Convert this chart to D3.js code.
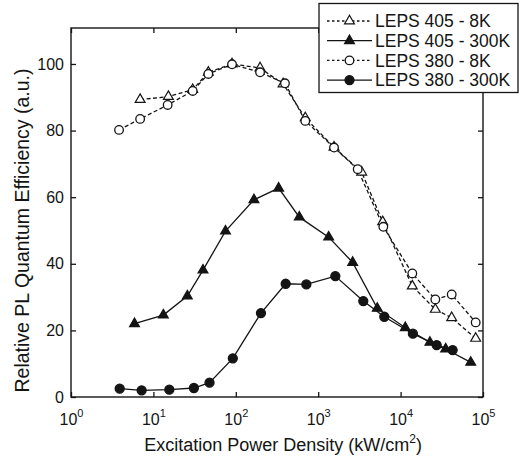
<!DOCTYPE html>
<html><head><meta charset="utf-8">
<script src="https://cdn.jsdelivr.net/npm/d3@7"></script>
<style>
html,body{margin:0;padding:0;background:#fff;}
svg{display:block;font-family:"Liberation Sans",Arial,sans-serif;}
</style></head>
<body>
<svg id="chart" width="520" height="458"></svg>
<script>
// ---- data ----
const seriesNames = ["LEPS 405 - 8K", "LEPS 405 - 300K", "LEPS 380 - 8K", "LEPS 380 - 300K"];

const x405_8K = [6.9, 15.2, 30, 46.4, 90, 197, 375, 697, 1556, 3370, 6060, 13870, 26400, 41700, 81500];
const y405_8K = [89.3, 90.2, 92.3, 97.5, 100, 98.8, 94.0, 83.8, 75, 67.5, 52.6, 33.3, 26.3, 23.8, 17.6];

const x405_300K = [5.9, 13.2, 25.8, 40, 75, 166, 331, 590, 1340, 2620, 5210, 11400, 22700, 35200, 71000];
const y405_300K = [22.0, 24.6, 30.3, 38.1, 49.8, 59.2, 62.7, 54, 48, 40.4, 26.6, 20.8, 16.4, 14.4, 10.4];

const x380_8K = [3.83, 6.9, 14.9, 30, 46.4, 90, 197, 395, 697, 1556, 3015, 6170, 13870, 26400, 41700, 81500];
const y380_8K = [80.2, 83.5, 87.7, 91.9, 97, 99.9, 97.5, 94.2, 82.9, 74.9, 68.4, 51.1, 37.1, 29.3, 30.8, 22.4];

const x380_300K = [3.9, 7.2, 15.6, 31, 48, 92, 202, 403, 718, 1614, 3525, 6340, 14100, 27400, 42800];
const y380_300K = [2.5, 2.0, 2.2, 2.7, 4.3, 11.6, 25.2, 34, 33.8, 36.3, 28.8, 24.1, 19, 15.6, 14.1];

const xTicks = [1, 10, 100, 1000, 10000, 100000];
const xTickExp = ["0", "1", "2", "3", "4", "5"];
const yTicks = [0, 20, 40, 60, 80, 100];

const xTitle = "Excitation Power Density (kW/cm";
const xTitleSup = "2";
const xTitleEnd = ")";
const yTitle = "Relative PL Quantum Efficiency (a.u.)";

// ---- layout ----
const L = 71, R = 483, T = 28, B = 397;
const ink = "#141414";
const svg = d3.select("#chart");

const x = d3.scaleLog().domain([1, 1e5]).range([L, R]);
const y = d3.scaleLinear().domain([0, 110.8]).range([B, T]);

const series = [
  {name: seriesNames[0], xs: x405_8K, ys: y405_8K, shape: "tri", filled: false, dashed: true},
  {name: seriesNames[1], xs: x405_300K, ys: y405_300K, shape: "tri", filled: true, dashed: false},
  {name: seriesNames[2], xs: x380_8K, ys: y380_8K, shape: "circ", filled: false, dashed: true},
  {name: seriesNames[3], xs: x380_300K, ys: y380_300K, shape: "circ", filled: true, dashed: false}
];

// frame
svg.append("rect").attr("x", L).attr("y", T).attr("width", R - L).attr("height", B - T)
  .attr("fill", "none").attr("stroke", ink).attr("stroke-width", 1.4);

// axes
const axL = svg.append("g").attr("transform", `translate(${L},0)`)
  .call(d3.axisLeft(y).tickValues(yTicks).tickSize(-5).tickPadding(7).tickFormat(d3.format("d")));
const axR = svg.append("g").attr("transform", `translate(${R},0)`)
  .call(d3.axisRight(y).tickValues(yTicks).tickSize(-5).tickFormat(""));
const axB = svg.append("g").attr("transform", `translate(0,${B})`)
  .call(d3.axisBottom(x).tickValues(xTicks).tickSize(-5).tickPadding(12).tickFormat(""));
const axT = svg.append("g").attr("transform", `translate(0,${T})`)
  .call(d3.axisTop(x).tickValues(xTicks).tickSize(-5).tickFormat(""));

[axL, axR, axB, axT].forEach(g => {
  g.select(".domain").remove();
  g.selectAll(".tick line").attr("stroke", ink).attr("stroke-width", 1.3);
});
axL.selectAll(".tick text").attr("font-size", 16).attr("fill", ink)
  .attr("font-family", "Liberation Sans, Arial, sans-serif");

axB.selectAll(".tick").each(function(d, i) {
  const t = d3.select(this).select("text")
    .attr("font-size", 16).attr("fill", ink).attr("dy", null).attr("y", 28)
    .attr("font-family", "Liberation Sans, Arial, sans-serif").attr("text-anchor", "middle");
  t.text("");
  t.append("tspan").text("10");
  t.append("tspan").attr("font-size", 11).attr("dy", -8).text(xTickExp[i]);
});

// titles
const xt = svg.append("text").attr("x", 283).attr("y", 451).attr("text-anchor", "middle")
  .attr("font-size", 18).attr("fill", ink);
xt.append("tspan").text(xTitle);
xt.append("tspan").attr("font-size", 12).attr("dy", -8).text(xTitleSup);
xt.append("tspan").attr("dy", 8).text(xTitleEnd);

svg.append("text").attr("transform", `translate(29,${(T + B) / 2 + 18}) rotate(-90)`)
  .attr("text-anchor", "middle").attr("font-size", 19.5).attr("fill", ink).text(yTitle);

// lines + markers
const line = d3.line().x(d => x(d[0])).y(d => y(d[1]));
const triSym = d3.symbol().type(d3.symbolTriangle).size(42);

function drawMarker(g, s, px, py) {
  if (s.shape === "tri") {
    g.append("path").attr("d", triSym()).attr("transform", `translate(${px},${py})`)
      .attr("fill", s.filled ? ink : "#fff").attr("stroke", ink).attr("stroke-width", 1.2);
  } else {
    g.append("circle").attr("cx", px).attr("cy", py).attr("r", s.filled ? 4.5 : 4.3)
      .attr("fill", s.filled ? ink : "#fff").attr("stroke", ink).attr("stroke-width", 1.3);
  }
}

const plot = svg.append("g");
series.forEach(s => {
  const pts = s.xs.map((v, i) => [v, s.ys[i]]);
  plot.append("path").datum(pts).attr("d", line).attr("fill", "none")
    .attr("stroke", ink).attr("stroke-width", 1.3)
    .attr("stroke-dasharray", s.dashed ? "4,2.5" : null);
});
series.forEach(s => {
  const g = plot.append("g");
  s.xs.forEach((v, i) => drawMarker(g, s, x(v), y(s.ys[i])));
});

// legend
const lg = svg.append("g");
lg.append("rect").attr("x", 319).attr("y", 3.5).attr("width", 199).attr("height", 89)
  .attr("fill", "#fff").attr("stroke", ink).attr("stroke-width", 1.3);
series.forEach((s, i) => {
  const cy = 21 + i * 19.7;
  lg.append("line").attr("x1", 327).attr("x2", 372).attr("y1", cy).attr("y2", cy)
    .attr("stroke", ink).attr("stroke-width", 1.3)
    .attr("stroke-dasharray", s.dashed ? "2.5,2.5" : null);
  drawMarker(lg, s, 349.5, cy);
  lg.append("text").attr("x", 375).attr("y", cy + 6.3).attr("font-size", 17.5)
    .attr("fill", ink).text(s.name);
});
</script>
</body></html>
